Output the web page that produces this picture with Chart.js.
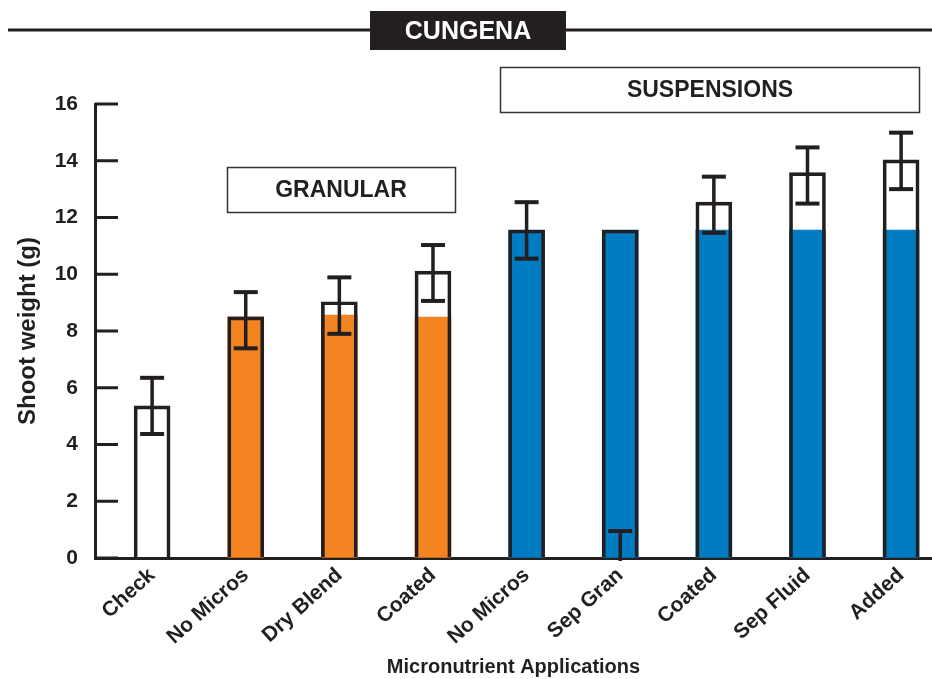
<!DOCTYPE html>
<html lang="en">
<head>
  <meta charset="UTF-8" />
  <title>Cungena shoot weight</title>
  <script src="https://cdn.jsdelivr.net/npm/chart.js"></script>
  <style>
    html, body { margin: 0; padding: 0; background: #fff; }
    #wrap { width: 932px; height: 679px; position: relative; }
  </style>
</head>
<body>
  <div id="wrap"><canvas id="shootChart"></canvas></div>

  <script>
    // values
    const categories = ["Check", "No Micros", "Dry Blend", "Coated", "No Micros", "Sep Gran", "Coated", "Sep Fluid", "Added"];
    const groups = ["check", "granular", "granular", "granular", "suspension", "suspension", "suspension", "suspension", "suspension"];
    const totals = [5.36, 8.50, 9.03, 10.11, 11.56, 11.56, 12.54, 13.58, 14.03];
    const baseValues = [0, 8.50, 8.56, 8.49, 11.56, 11.56, 11.56, 11.56, 11.56];
    const errHigh = [6.35, 9.37, 9.89, 11.03, 12.54, 0.95, 13.44, 14.47, 14.99];
    const errLow = [4.37, 7.39, 7.90, 9.06, 10.55, 0, 11.46, 12.49, 13.00];
    const yTicks = [0, 2, 4, 6, 8, 10, 12, 14, 16];

    const dark = "#231f20";
    const groupColor = { check: "rgba(0,0,0,0)", granular: "#f48422", suspension: "#007cc3" };
    const font = "'Liberation Sans', Arial, sans-serif";

    // error bars, inward y ticks, header and group boxes
    const extras = {
      id: "extras",
      afterDatasetsDraw(chart) {
        const { ctx, scales: { x, y } } = chart;
        ctx.save();
        ctx.fillStyle = dark;
        errHigh.forEach((hi, i) => {
          const cx = x.getPixelForValue(i);
          const yHi = y.getPixelForValue(hi);
          const yLo = y.getPixelForValue(errLow[i]);
          ctx.fillRect(cx - 1.75, yHi, 3.5, yLo - yHi + (errLow[i] > 0 ? 0 : 3));
          ctx.fillRect(cx - 12, yHi - 2, 24, 4);
          if (errLow[i] > 0) ctx.fillRect(cx - 12, yLo - 2, 24, 4);
        });
        ctx.restore();
      },
      afterDraw(chart) {
        const { ctx, chartArea, scales: { y } } = chart;
        ctx.save();
        ctx.fillStyle = dark;
        yTicks.forEach(v => {
          const py = y.getPixelForValue(v);
          ctx.fillRect(chartArea.left, py - 1.5, 23, 3);
        });

        // header rule + black title box
        ctx.fillRect(8, 28.5, 924, 3);
        ctx.fillRect(370, 11, 196, 39);
        ctx.fillStyle = "#fff";
        ctx.font = "bold 25px " + font;
        ctx.textAlign = "center";
        ctx.textBaseline = "middle";
        ctx.fillText("CUNGENA", 468, 32);

        // group boxes
        ctx.strokeStyle = "#333";
        ctx.lineWidth = 1.5;
        ctx.fillStyle = dark;
        ctx.font = "bold 23px " + font;
        ctx.strokeRect(227.5, 167.5, 228, 45);
        ctx.fillText("GRANULAR", 341, 191);
        ctx.strokeRect(500.5, 67.5, 419, 45);
        ctx.fillText("SUSPENSIONS", 710, 91);
        ctx.restore();
      }
    };

    new Chart(document.getElementById("shootChart"), {
      type: "bar",
      data: {
        datasets: [
          {
            data: totals.map((v, i) => ({ x: i, y: v })),
            backgroundColor: "rgba(0,0,0,0)",
            borderColor: dark,
            borderWidth: 3,
            borderSkipped: "start",
            barThickness: 36,
            grouped: false
          },
          {
            data: baseValues.map((v, i) => ({ x: i, y: v })),
            backgroundColor: groups.map(g => groupColor[g]),
            borderWidth: 0,
            barThickness: 36,
            grouped: false
          }
        ]
      },
      options: {
        responsive: true,
        maintainAspectRatio: false,
        animation: false,
        layout: { padding: { top: 104, left: 0, right: 0, bottom: 0 } },
        plugins: {
          legend: { display: false },
          tooltip: { enabled: false }
        },
        scales: {
          x: {
            type: "linear",
            offset: false,
            min: -0.61,
            max: 8.33,
            afterBuildTicks: s => { s.ticks = categories.map((_, i) => ({ value: i })); },
            afterFit: s => { s.height = 121; },
            ticks: {
              autoSkip: false,
              minRotation: 42,
              maxRotation: 42,
              padding: 5,
              color: dark,
              font: { family: font, size: 21, weight: "bold" },
              callback: v => categories[v]
            },
            grid: { drawOnChartArea: false, drawTicks: false },
            border: { display: true, color: dark, width: 3 },
            title: {
              display: true,
              text: "Micronutrient Applications",
              color: dark,
              font: { family: font, size: 20, weight: "bold" },
              padding: { top: 0, bottom: 0 }
            }
          },
          y: {
            min: 0,
            max: 16,
            afterBuildTicks: s => { s.ticks = yTicks.map(v => ({ value: v })); },
            afterFit: s => { s.width = 95; },
            ticks: {
              padding: 17,
              color: dark,
              font: { family: font, size: 21, weight: "bold" }
            },
            grid: { drawOnChartArea: false, drawTicks: false },
            border: { display: true, color: dark, width: 3 },
            title: {
              display: true,
              text: "Shoot weight (g)",
              color: dark,
              font: { family: font, size: 24, weight: "bold" },
              padding: { top: 14, bottom: 0 }
            }
          }
        }
      },
      plugins: [extras]
    });
  </script>
</body>
</html>
